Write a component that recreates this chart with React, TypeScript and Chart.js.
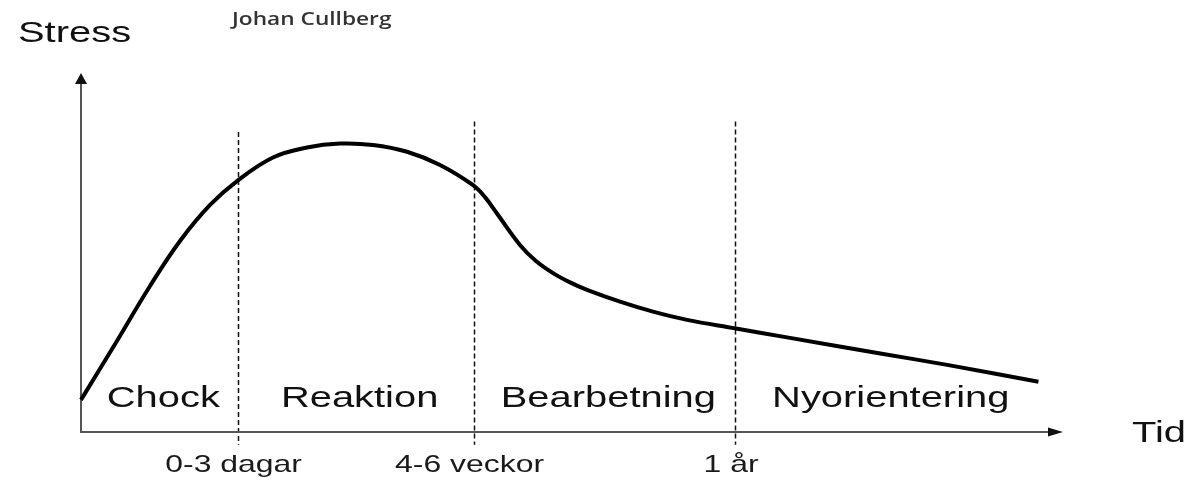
import React, { useEffect, useRef } from "react";
import { Chart, registerables } from "chart.js";

Chart.register(...registerables);

// Time (0–100 along the horizontal axis) and stress (0–100)
const timeValues = [0, 3.46, 7.03, 10.08, 13.14, 15.89, 19.55, 23.01, 26.37, 29.74, 33.2, 36.56, 39.89, 41.14, 42.36, 44.7, 46.33, 48.07, 49.8, 51.53, 54.89, 58.25, 61.71, 66.7, 71.9, 81.4, 88.2, 97.5];
const stressValues = [9.0, 24.6, 40.9, 53.5, 63.6, 70.3, 76.9, 79.7, 80.8, 80.4, 78.5, 74.8, 69.2, 65.8, 61.2, 52.4, 47.9, 44.5, 41.9, 39.8, 36.5, 33.7, 31.4, 29.0, 26.5, 22.0, 18.8, 14.1];

const phaseNames = ["Chock", "Reaktion", "Bearbetning", "Nyorientering"];
const phaseBoundaries = [15.95, 39.98, 66.6];
const boundaryLabels = ["0-3 dagar", "4-6 veckor", "1 år"];
const boundaryTops = [84, 87, 87];
const boundaryBottom = -3.6;

const yAxisTitle = "Stress";
const xAxisTitle = "Tid";
const author = "Johan Cullberg";

const SX = 1.33;

function drawStretched(
  ctx: CanvasRenderingContext2D,
  text: string,
  x: number,
  y: number,
  font: string,
  align: "left" | "center",
  color: string,
  sx: number = SX
) {
  ctx.save();
  ctx.font = font;
  ctx.textAlign = "left";
  ctx.textBaseline = "alphabetic";
  ctx.fillStyle = color;
  const w = ctx.measureText(text).width * sx;
  const start = align === "center" ? x - w / 2 : x;
  ctx.translate(start, y);
  ctx.scale(sx, 1);
  ctx.fillText(text, 0, 0);
  ctx.restore();
}

const diagramPlugin = {
  id: "diagram",
  beforeDatasetsDraw(chart: any) {
    const { ctx, chartArea: a, scales } = chart;
    const x = scales.x;
    const y = scales.y;
    ctx.save();
    // phase boundaries
    ctx.strokeStyle = "#111";
    ctx.lineWidth = 1.5;
    ctx.setLineDash([5, 3]);
    phaseBoundaries.forEach((b, i) => {
      const px = Math.round(x.getPixelForValue(b)) + 0.5;
      ctx.beginPath();
      ctx.moveTo(px, y.getPixelForValue(boundaryTops[i]));
      ctx.lineTo(px, y.getPixelForValue(boundaryBottom));
      ctx.stroke();
    });
    ctx.setLineDash([]);
    // axes
    ctx.strokeStyle = "#555";
    ctx.lineWidth = 2;
    ctx.beginPath();
    ctx.moveTo(a.left, a.top + 8);
    ctx.lineTo(a.left, a.bottom);
    ctx.lineTo(a.right - 12, a.bottom);
    ctx.stroke();
    ctx.fillStyle = "#111";
    ctx.beginPath();
    ctx.moveTo(a.left, a.top - 2);
    ctx.lineTo(a.left - 6, a.top + 9);
    ctx.lineTo(a.left + 6, a.top + 9);
    ctx.closePath();
    ctx.fill();
    ctx.beginPath();
    ctx.moveTo(a.right, a.bottom);
    ctx.lineTo(a.right - 15, a.bottom - 4.5);
    ctx.lineTo(a.right - 15, a.bottom + 4.5);
    ctx.closePath();
    ctx.fill();
    ctx.restore();
  },
  afterDatasetsDraw(chart: any) {
    const { ctx, chartArea: a, scales } = chart;
    const x = scales.x;
    const y = scales.y;
    const main = "30px 'Liberation Sans', Arial, sans-serif";
    const small = "24px 'Liberation Sans', Arial, sans-serif";
    const edges = [0, ...phaseBoundaries, timeValues[timeValues.length - 1]];
    phaseNames.forEach((name, i) => {
      const cx = (x.getPixelForValue(edges[i]) + x.getPixelForValue(edges[i + 1])) / 2 + 4;
      drawStretched(ctx, name, cx, y.getPixelForValue(0) - 25, main, "center", "#111");
    });
    boundaryLabels.forEach((lab, i) => {
      drawStretched(ctx, lab, x.getPixelForValue(phaseBoundaries[i]) - 4, a.bottom + 40, small, "center", "#1a1a1a");
    });
    drawStretched(ctx, yAxisTitle, a.left - 63, a.top - 33, main, "left", "#111");
    drawStretched(ctx, xAxisTitle, a.right + 69, a.bottom + 10, main, "left", "#111");
    drawStretched(ctx, author, a.left + 151, a.top - 50, "600 18px 'Open Sans', sans-serif", "left", "#333", 1.26);
  },
};

export default function App() {
  const ref = useRef<HTMLCanvasElement | null>(null);
  useEffect(() => {
    if (!ref.current) return;
    const chart = new Chart(ref.current, {
      type: "line",
      data: {
        datasets: [
          {
            label: yAxisTitle,
            data: timeValues.map((t, i) => ({ x: t, y: stressValues[i] })),
            borderColor: "#000",
            borderWidth: 4,
            pointRadius: 0,
            tension: 0.4,
            fill: false,
            clip: false as any,
          },
        ],
      },
      options: {
        responsive: false,
        animation: false,
        layout: { padding: { left: 81, right: 129, top: 75, bottom: 48 } },
        plugins: { legend: { display: false }, tooltip: { enabled: false }, title: { display: false } },
        scales: {
          x: { type: "linear", min: 0, max: 100, display: false },
          y: { type: "linear", min: 0, max: 100, display: false },
        },
      },
      plugins: [diagramPlugin],
    });
    return () => chart.destroy();
  }, []);
  return (
    <div style={{ position: "fixed", left: 0, top: 0, width: 1192, height: 480, background: "#fff" }}>
      <canvas ref={ref} width={1192} height={480} style={{ display: "block" }} />
    </div>
  );
}
